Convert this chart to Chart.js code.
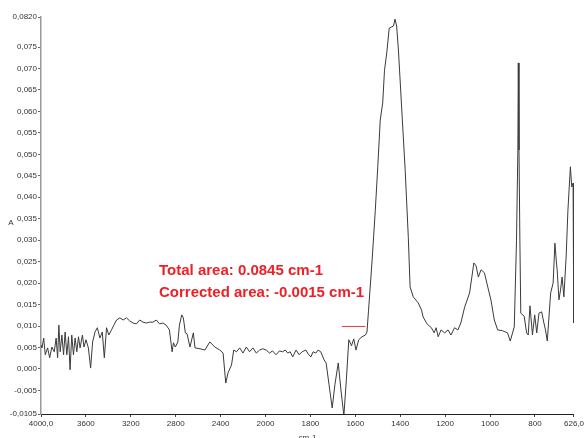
<!DOCTYPE html>
<html>
<head>
<meta charset="utf-8">
<script src="https://cdn.jsdelivr.net/npm/chart.js@4.4.1/dist/chart.umd.min.js"></script>
<style>
  html, body { margin: 0; padding: 0; background: #ffffff; overflow: hidden; }
  #wrap { width: 586px; height: 438px; }
</style>
</head>
<body>
<div id="wrap"><canvas id="spectrum" width="586" height="438"></canvas></div>
<script>
// FTIR absorbance spectrum (wavenumber in cm-1, absorbance in A)
const wavenumbers = [
  4000,3991,3976,3962,3941,3923,3903,3882,3865,3852,3841,3829,3814,3799,3785,3770,3755,3741,3726,3711,
  3696,3681,3666,3652,3631,3617,3599,3578,3558,3540,3519,3498,3475,3454,3436,3416,3396,3372,3351,3327,
  3298,3268,3239,3210,3180,3150,3121,3091,3062,3033,3003,2973,2944,2914,2885,2856,2832,2820,2803,2781,
  2767,2746,2732,2714,2699,2673,2643,2628,2584,2540,2496,2451,2407,2378,2354,2334,2303,2283,2259,2230,
  2201,2171,2142,2112,2082,2053,2024,
  1997,1982,1969,1953,1938,1924,1912,1901,1890,1879,1864,1850,1837,1820,1810,1798,1788,1776,1766,1754,
  1739,1730,1717,1703,1691,1676,1664,1651,1640,1629,1617,1607,1597,1585,1570,1555,1548,1541,1526,1511,
  1500,1489,1478,1470,1460,1449,1438,1430,1423,1416,1408,1393,1378,1364,1356,1342,1320,1305,1298,1283,
  1275,1261,1249,1240,1231,1218,1202,1187,1174,1158,1143,1130,1113,1091,1072,1062,1052,1040,1025,1010,
  996,981,966,944,922,910,892,882,876,874,871,867,863,848,837,830,822,811,801,792,
  782,770,760,753,745,730,719,711,704,701,693,686,679,671,661,653,642,636,630,628,626
];
const absorbance = [
  0.0056,0.0049,0.0072,0.0033,0.0049,0.0026,0.0051,0.0040,0.0072,0.0026,0.0102,0.0040,0.0079,0.0033,0.0086,0.0033,0.0075,-0.0002,0.0079,0.0033,
  0.0072,0.0040,0.0075,0.0049,0.0079,0.0051,0.0068,0.0049,0.0002,0.0063,0.0086,0.0096,0.0072,0.0086,0.0026,0.0096,0.0079,0.0091,0.0102,0.0114,
  0.0119,0.0114,0.0119,0.0112,0.0107,0.0105,0.0114,0.0109,0.0107,0.0109,0.0109,0.0114,0.0105,0.0107,0.0102,0.0091,0.0040,0.0061,0.0051,0.0063,
  0.0102,0.0126,0.0119,0.0084,0.0082,0.0051,0.0084,0.0049,0.0047,0.0044,0.0063,0.0051,0.0044,0.0037,-0.0033,-0.0009,0.0009,0.0044,0.0040,0.0049,
  0.0037,0.0051,0.0040,0.0049,0.0037,0.0044,0.0047,
  0.0044,0.0037,0.0042,0.0033,0.0042,0.0040,0.0044,0.0037,0.0040,0.0028,0.0044,0.0033,0.0040,0.0044,0.0035,0.0028,0.0040,0.0037,0.0044,0.0040,
  0.0021,0.0014,-0.0037,-0.0091,-0.0037,0.0014,-0.0049,-0.0109,-0.0026,0.0068,0.0054,0.0070,0.0044,0.0068,0.0075,0.0079,0.0086,0.0137,0.0247,0.0370,
  0.0471,0.0580,0.0620,0.0696,0.0736,0.0794,0.0797,0.0799,0.0815,0.0799,0.0743,0.0603,0.0464,0.0307,0.0191,0.0168,0.0154,0.0137,0.0121,0.0107,
  0.0102,0.0096,0.0084,0.0096,0.0075,0.0091,0.0084,0.0091,0.0079,0.0096,0.0091,0.0107,0.0144,0.0177,0.0247,0.0240,0.0214,0.0231,0.0224,0.0191,
  0.0161,0.0114,0.0091,0.0089,0.0084,0.0065,0.0098,0.0300,0.0510,0.0713,0.0510,0.0300,0.0130,0.0123,0.0084,0.0079,0.0147,0.0079,0.0126,0.0084,
  0.0130,0.0133,0.0107,0.0091,0.0065,0.0177,0.0200,0.0293,0.0247,0.0231,0.0161,0.0184,0.0214,0.0168,0.0261,0.0370,0.0471,0.0424,0.0433,0.0331,0.0107
];

// Integration baseline segment under the carbonyl / amide region
const baselineX = [1660, 1555];
const baselineY = [0.0099, 0.0099];

// Axis ticks and their printed labels
const xTicks = [4000, 3600, 3200, 2800, 2400, 2000, 1800, 1600, 1400, 1200, 1000, 800, 626];
const xTickLabels = ['4000,0', '3600', '3200', '2800', '2400', '2000', '1800', '1600', '1400', '1200', '1000', '800', '626,0'];
const yTicks = [0.082, 0.075, 0.070, 0.065, 0.060, 0.055, 0.050, 0.045, 0.040, 0.035, 0.030, 0.025, 0.020, 0.015, 0.010, 0.005, 0.000, -0.005, -0.0105];
const yTickLabels = ['0,0820', '0,075', '0,070', '0,065', '0,060', '0,055', '0,050', '0,045', '0,040', '0,035', '0,030', '0,025', '0,020', '0,015', '0,010', '0,005', '0,000', '-0,005', '-0,0105'];

const areaLabels = ['Total area: 0.0845 cm-1', 'Corrected area: -0.0015 cm-1'];
const xTitle = 'cm-1';
const yTitle = 'A';

// Wavenumber axis that is expanded by a factor below a break point
// (the fingerprint region gets twice the room per cm-1).
class SplitWavenumberScale extends Chart.LinearScale {
  _dist(v) {
    const top = this.max, brk = this.options.breakAt, f = this.options.expand;
    return v >= brk ? (top - v) : (top - brk) + (brk - v) * f;
  }
  getPixelForValue(value) {
    const total = this._dist(this.min);
    return this.left + (this._dist(value) / total) * this.width;
  }
  getValueForPixel(pixel) {
    const total = this._dist(this.min);
    const d = (pixel - this.left) / this.width * total;
    const top = this.max, brk = this.options.breakAt, f = this.options.expand;
    return d <= top - brk ? top - d : brk - (d - (top - brk)) / f;
  }
}
SplitWavenumberScale.id = 'splitWavenumber';
SplitWavenumberScale.defaults = Chart.LinearScale.defaults;
Chart.register(SplitWavenumberScale);

const tickFont = { family: '"Liberation Sans Narrow", "Liberation Sans", Arial, sans-serif', size: 8 };

const labelsPlugin = {
  id: 'spectrumLabels',
  afterDraw(chart) {
    const { ctx, chartArea } = chart;
    ctx.save();
    // area readout
    ctx.fillStyle = '#ee2026';
    ctx.font = 'bold 15px "Liberation Sans", Arial, sans-serif';
    ctx.textAlign = 'left';
    ctx.textBaseline = 'alphabetic';
    ctx.fillText(areaLabels[0], 159, 275);
    ctx.fillText(areaLabels[1], 159, 297);
    // axis titles
    ctx.fillStyle = '#333333';
    ctx.font = '8px "Liberation Sans Narrow", "Liberation Sans", Arial, sans-serif';
    ctx.textAlign = 'center';
    ctx.textBaseline = 'middle';
    ctx.fillText(yTitle, 11, 223);
    ctx.textBaseline = 'top';
    ctx.fillText(xTitle, (chartArea.left + chartArea.right) / 2, 434);
    ctx.restore();
  }
};

new Chart(document.getElementById('spectrum'), {
  type: 'line',
  data: {
    datasets: [
      {
        data: wavenumbers.map((w, i) => ({ x: w, y: absorbance[i] })),
        borderColor: '#3a3a3a',
        borderWidth: 1,
        pointRadius: 0,
        tension: 0,
        fill: false
      },
      {
        data: baselineX.map((w, i) => ({ x: w, y: baselineY[i] })),
        borderColor: '#e8383a',
        borderWidth: 1,
        pointRadius: 0,
        fill: false
      }
    ]
  },
  options: {
    responsive: false,
    devicePixelRatio: 1,
    animation: false,
    events: [],
    layout: { padding: { left: 0, right: 9, top: 17, bottom: 0 } },
    plugins: { legend: { display: false }, tooltip: { enabled: false } },
    scales: {
      x: {
        type: 'splitWavenumber',
        breakAt: 2000,
        expand: 2,
        min: 626,
        max: 4000,
        afterFit: s => { s.height = 24; },
        afterBuildTicks: s => { s.ticks = xTicks.map(v => ({ value: v })); },
        border: { display: true, color: '#222222', width: 1 },
        grid: { display: true, drawOnChartArea: false, drawTicks: true, tickLength: 3, color: '#444444' },
        ticks: {
          autoSkip: false,
          maxRotation: 0,
          padding: 2,
          color: '#333333',
          font: tickFont,
          callback: (v, i) => xTickLabels[i]
        }
      },
      y: {
        type: 'linear',
        min: -0.0105,
        max: 0.082,
        afterFit: s => { s.width = 41; },
        afterBuildTicks: s => { s.ticks = yTicks.map(v => ({ value: v })); },
        border: { display: true, color: '#9a9a9a', width: 1.5 },
        grid: { display: true, drawOnChartArea: false, drawTicks: true, tickLength: 3, color: '#666666' },
        ticks: {
          autoSkip: false,
          padding: 1,
          color: '#333333',
          font: tickFont,
          callback: (v, i) => yTickLabels[i]
        }
      }
    }
  },
  plugins: [labelsPlugin]
});
</script>
</body>
</html>
